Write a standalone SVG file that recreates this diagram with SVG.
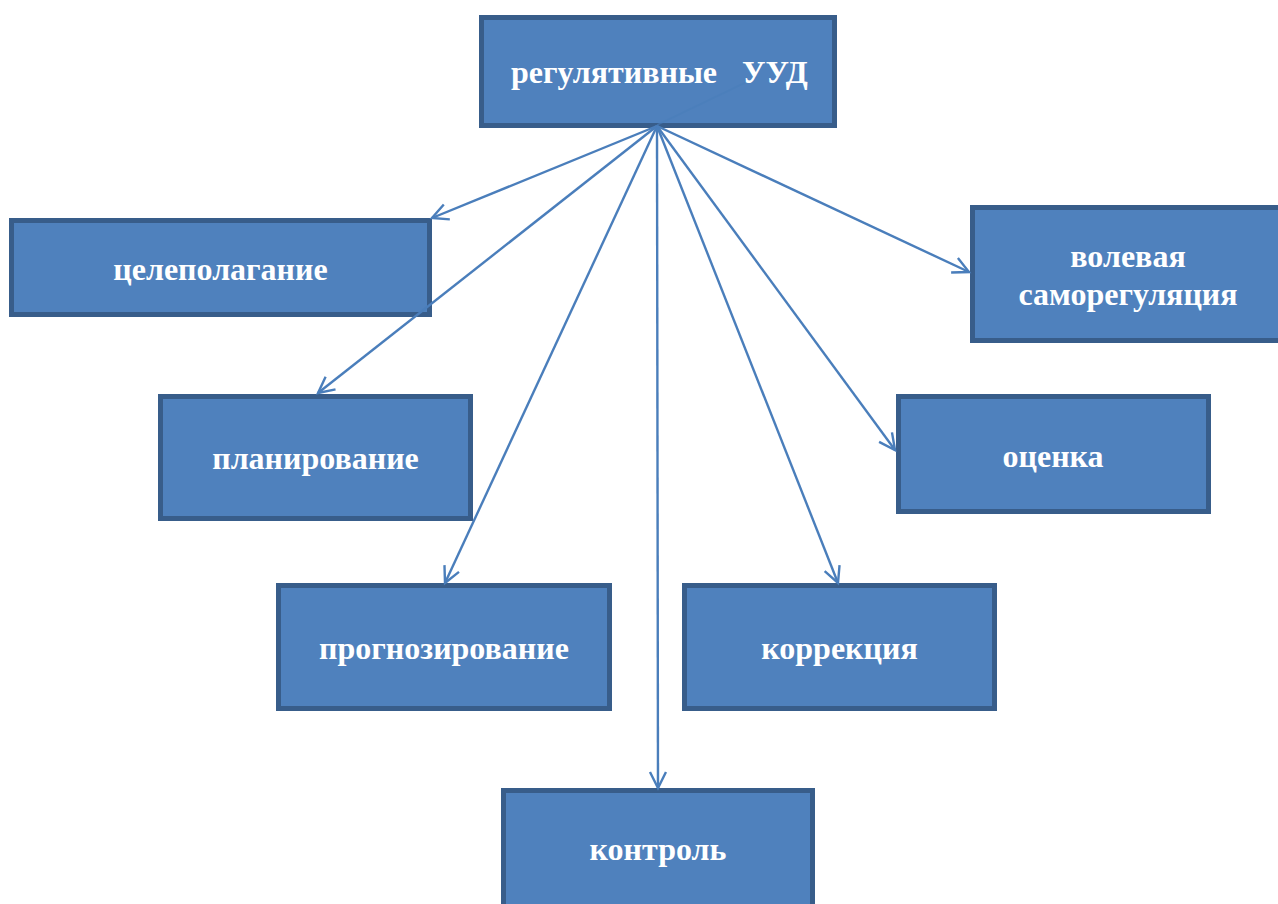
<svg xmlns="http://www.w3.org/2000/svg" width="1278" height="904" viewBox="0 0 1278 904">
<style>
.box{fill:#4F81BD;stroke:#385D8A;stroke-width:5}
.lbl{font-family:"Liberation Serif","Times New Roman",serif;font-weight:bold;font-size:32px;fill:#FFFFFF;text-anchor:middle}
.conn{stroke:#4A7EBB;stroke-width:2.4;fill:none;marker-end:url(#arr)}
</style>
<defs>
<marker id="arr" markerUnits="userSpaceOnUse" markerWidth="22" markerHeight="22" refX="17" refY="9" orient="auto" viewBox="0 0 22 18">
<path d="M1,1 L17,9 L1,17" fill="none" stroke="#4A7EBB" stroke-width="2.4"/>
</marker>
</defs>
<rect width="1278" height="904" fill="#FFFFFF"/>
<g id="node-top">
<rect class="box" x="481.5" y="17.5" width="353" height="108"/>
<line x1="657" y1="125" x2="757" y2="77" stroke="#4A7EBB" stroke-width="1.5" opacity="0.6"/>
<text class="lbl" x="511" y="83" style="text-anchor:start">регулятивные<tspan x="742">УУД</tspan></text>
</g>
<g id="node-celepolaganie">
<rect class="box" x="11.5" y="220.5" width="418" height="94"/>
<text class="lbl" x="220.5" y="280">целеполагание</text>
</g>
<g id="node-planirovanie">
<rect class="box" x="160.5" y="396.5" width="310" height="122"/>
<text class="lbl" x="315.5" y="469">планирование</text>
</g>
<g id="node-prognozirovanie">
<rect class="box" x="278.5" y="585.5" width="331" height="123"/>
<text class="lbl" x="444" y="659">прогнозирование</text>
</g>
<g id="node-kontrol">
<rect class="box" x="503.5" y="790.5" width="309" height="130"/>
<text class="lbl" x="658" y="860">контроль</text>
</g>
<g id="node-korrekciya">
<rect class="box" x="684.5" y="585.5" width="310" height="123"/>
<text class="lbl" x="839.5" y="659">коррекция</text>
</g>
<g id="node-ocenka">
<rect class="box" x="898.5" y="396.5" width="310" height="115"/>
<text class="lbl" x="1053" y="467">оценка</text>
</g>
<g id="node-volevaya">
<rect class="box" x="972.5" y="207.5" width="320" height="133"/>
<text class="lbl" x="1128" y="267">волевая</text>
<text class="lbl" x="1128" y="305">саморегуляция</text>
</g>
<g id="connectors">
<line class="conn" x1="657" y1="126" x2="432" y2="218"/>
<line class="conn" x1="657" y1="126" x2="318" y2="393"/>
<line class="conn" x1="657" y1="126" x2="445" y2="583"/>
<line class="conn" x1="657" y1="126" x2="658" y2="788"/>
<line class="conn" x1="657" y1="126" x2="838" y2="583"/>
<line class="conn" x1="657" y1="126" x2="895" y2="450"/>
<line class="conn" x1="657" y1="126" x2="969" y2="272"/>
</g>
</svg>
